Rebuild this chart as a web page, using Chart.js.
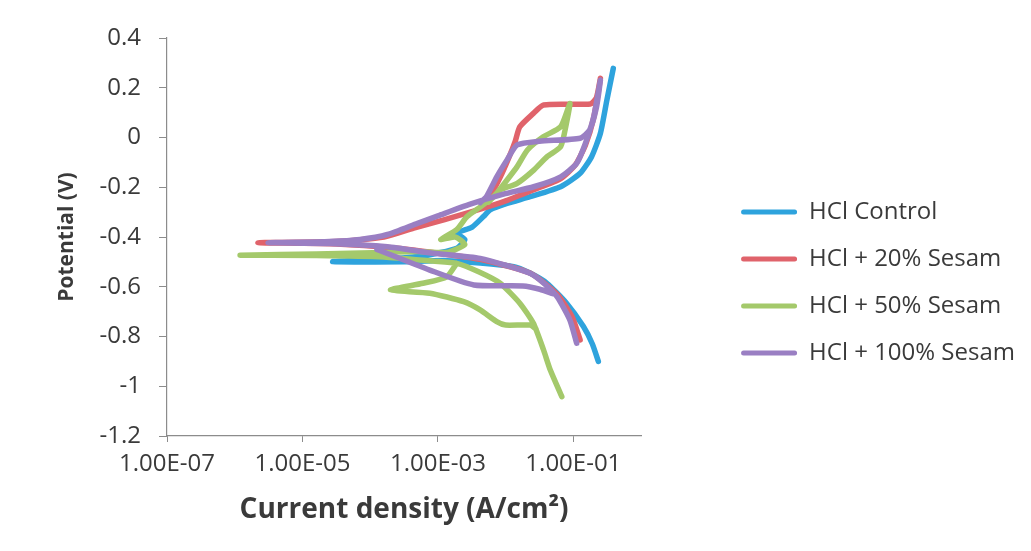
<!DOCTYPE html>
<html lang="en">
<head>
    <meta charset="UTF-8">
    <title>Tafel plot - HCl / Sesam</title>
    <script src="https://cdn.jsdelivr.net/npm/chart.js"></script>
    <style>
        body {
            margin: 0;
            background: #ffffff;
        }
        .chart-box {
            width: 1031px;
            height: 551px;
        }
    </style>
</head>
<body>
    <div class="chart-box">
        <canvas id="tafelChart"></canvas>
    </div>

    <script>
        // x ticks (current density, A/cm2)
        const xTicks = [1e-7, 1e-5, 1e-3, 1e-1];
        const xTickLabels = ["1.00E-07", "1.00E-05", "1.00E-03", "1.00E-01"];

        // HCl Control
        const controlI = [0.234, 0.191, 0.141, 0.0794, 0.0407, 0.0229, 0.0132, 1.35e-3, 3.2e-4, 2.8e-5,
            1.4e-4, 6.3e-4, 1.9e-3, 2.5e-3, 1.9e-3, 3.2e-3, 4.7e-3, 5.9e-3, 1.05e-2, 2.3e-2,
            6.5e-2, 0.126, 0.186, 0.251, 0.313, 0.389];
        const controlE = [-0.90, -0.83, -0.76, -0.666, -0.586, -0.545, -0.519, -0.495, -0.499, -0.499,
            -0.49, -0.475, -0.445, -0.41, -0.385, -0.36, -0.318, -0.291, -0.265, -0.238,
            -0.198, -0.144, -0.077, 0.017, 0.151, 0.278];

        // HCl + 20% Sesam
        const s20I = [0.126, 0.0955, 0.0575, 0.0229, 4.2e-3, 1.0e-3, 2.5e-4, 3.2e-5, 2.2e-6,
            3.2e-5, 1.6e-4, 4.4e-4, 1.26e-3, 4.0e-3, 1.0e-2, 2.6e-2, 6.5e-2, 0.107, 0.151, 0.20, 0.251,
            0.219, 0.178, 0.0363, 0.0257, 0.0162, 0.0138, 0.0112, 8.3e-3, 6.3e-3, 5.0e-3];
        const s20E = [-0.814, -0.72, -0.63, -0.545, -0.49, -0.465, -0.445, -0.428, -0.423,
            -0.418, -0.40, -0.364, -0.33, -0.29, -0.255, -0.21, -0.165, -0.11, -0.03, 0.08, 0.238,
            0.16, 0.135, 0.131, 0.097, 0.043, -0.017, -0.08, -0.16, -0.22, -0.25];

        // HCl + 50% Sesam (null = break in the line)
        const s50I = [0.0676, 0.0457, 0.0363, 0.0257, 0.0162, 8.3e-3, 4.0e-3, 1.9e-3, 8.5e-4, 1.6e-4, 1.6e-5, 1.2e-6,
            1.6e-5, 1.6e-4, 5.0e-4, 1.35e-3, 2.5e-3, 1.8e-3, 1.1e-3, 1.9e-3, 2.7e-3, 4.2e-3, 6.6e-3,
            8.3e-3, 1.48e-2, 2.6e-2, 4.1e-2, 6.5e-2, 7.9e-2, 8.9e-2,
            6.5e-2, 3.6e-2, 2.1e-2, 1.48e-2, 1.05e-2, 7.4e-3, 5.6e-3,
            null,
            1.9e-3, 1.35e-3, 6.0e-4, 2.0e-4, 7.6e-4, 2.4e-3, 4.2e-3, 7.4e-3, 1.0e-2, 2.3e-2, 2.8e-2];
        const s50E = [-1.042, -0.935, -0.854, -0.747, -0.666, -0.586, -0.54, -0.506, -0.497, -0.48, -0.474, -0.473,
            -0.468, -0.462, -0.458, -0.462, -0.43, -0.40, -0.41, -0.37, -0.318, -0.28, -0.238,
            -0.211, -0.184, -0.131, -0.077, -0.037, 0.057, 0.137,
            0.043, 0.003, -0.05, -0.117, -0.171, -0.224, -0.26,
            null,
            -0.506, -0.56, -0.586, -0.613, -0.626, -0.66, -0.693, -0.74, -0.754, -0.754, -0.77];

        // HCl + 100% Sesam
        const s100I = [0.112, 0.089, 0.0575, 0.038, 0.0229, 4.2e-3, 8.5e-4, 1.8e-4, 2.5e-5, 3.1e-6,
            2.5e-5, 7.1e-5, 1.8e-4, 5.0e-4, 1.0e-3, 3.0e-3, 9.3e-3, 2.6e-2, 6.5e-2, 0.112, 0.151, 0.20, 0.251,
            0.219, 0.174, 0.126, 0.0316, 0.0148, 0.0105, 7.4e-3, 5.2e-3, 4.2e-3,
            null,
            1.26e-4, 7.6e-4, 3.4e-3, 1.8e-2, 3.2e-2, 0.05];
        const s100E = [-0.827, -0.734, -0.64, -0.59, -0.546, -0.486, -0.465, -0.439, -0.426, -0.423,
            -0.418, -0.41, -0.39, -0.345, -0.315, -0.268, -0.228, -0.198, -0.158, -0.104, -0.023, 0.084, 0.231,
            0.12, 0.03, -0.003, -0.015, -0.03, -0.09, -0.158, -0.238, -0.262,
            null,
            -0.45, -0.533, -0.593, -0.597, -0.61, -0.628];

        const toPoints = (I, E) => I.map((x, i) => ({ x: x, y: E[i] }));

        const textColor = "#3a3a3a";
        const axisColor = "#8c8c8c";

        const makeSet = (label, I, E, color) => ({
            label: label,
            data: toPoints(I, E),
            borderColor: color,
            backgroundColor: color,
            borderWidth: 5.5,
            pointRadius: 0,
            showLine: true,
            tension: 0.2,
            borderCapStyle: "round",
            borderJoinStyle: "round"
        });

        const ctx = document.getElementById("tafelChart").getContext("2d");

        // datasets listed last-to-first so later series are painted on top (like Excel)
        const tafelChart = new Chart(ctx, {
            type: "scatter",
            data: {
                datasets: [
                    makeSet("HCl + 100% Sesam", s100I, s100E, "#9a7fc3"),
                    makeSet("HCl + 50% Sesam", s50I, s50E, "#a4c96b"),
                    makeSet("HCl + 20% Sesam", s20I, s20E, "#e0636b"),
                    makeSet("HCl Control", controlI, controlE, "#2ea3dd")
                ]
            },
            options: {
                responsive: true,
                maintainAspectRatio: false,
                animation: false,
                layout: {
                    padding: { top: 38, left: 54, bottom: 24, right: 6 }
                },
                plugins: {
                    tooltip: { enabled: false },
                    legend: {
                        position: "right",
                        reverse: true,
                        maxWidth: 400,
                        labels: {
                            color: textColor,
                            font: { family: "Open Sans", size: 24 },
                            boxWidth: 56,
                            boxHeight: 5,
                            padding: 23,
                            useBorderRadius: true,
                            borderRadius: 2.5,
                            generateLabels: (chart) =>
                                Chart.defaults.plugins.legend.labels.generateLabels(chart)
                                    .map(item => ({ ...item, lineWidth: 0 }))
                        }
                    }
                },
                scales: {
                    x: {
                        type: "logarithmic",
                        min: 1e-7,
                        max: 1,
                        afterBuildTicks: (scale) => {
                            scale.ticks = xTicks.map(v => ({ value: v }));
                        },
                        afterFit: (scale) => { scale.height = 91; },
                        grid: { drawOnChartArea: false, color: axisColor, tickLength: 6 },
                        border: { color: axisColor, width: 1.2 },
                        ticks: {
                            color: textColor,
                            font: { family: "Open Sans", size: 24 },
                            padding: 8,
                            maxRotation: 0,
                            autoSkip: false,
                            callback: (value) => xTickLabels[xTicks.indexOf(value)]
                        },
                        title: {
                            display: true,
                            text: "Current density (A/cm²)",
                            color: textColor,
                            font: { family: "Open Sans", size: 28, weight: "bold" },
                            padding: 0
                        }
                    },
                    y: {
                        min: -1.2,
                        max: 0.4,
                        afterFit: (scale) => { scale.width = 113; },
                        grid: { drawOnChartArea: false, color: axisColor, tickLength: 8 },
                        border: { color: axisColor, width: 1.2 },
                        ticks: {
                            stepSize: 0.2,
                            color: textColor,
                            font: { family: "Open Sans", size: 24 },
                            padding: 18,
                            callback: (value) => Number(value.toFixed(1)).toString()
                        },
                        title: {
                            display: true,
                            text: "Potential (V)",
                            color: textColor,
                            font: { family: "Open Sans", size: 21, weight: "bold" },
                            padding: 0
                        }
                    },
                    // empty spacer between plot and legend
                    gap: {
                        position: "right",
                        display: true,
                        grid: { display: false },
                        border: { display: false },
                        ticks: { display: false },
                        afterFit: (scale) => { scale.width = 77; }
                    }
                }
            }
        });
    </script>
</body>
</html>
